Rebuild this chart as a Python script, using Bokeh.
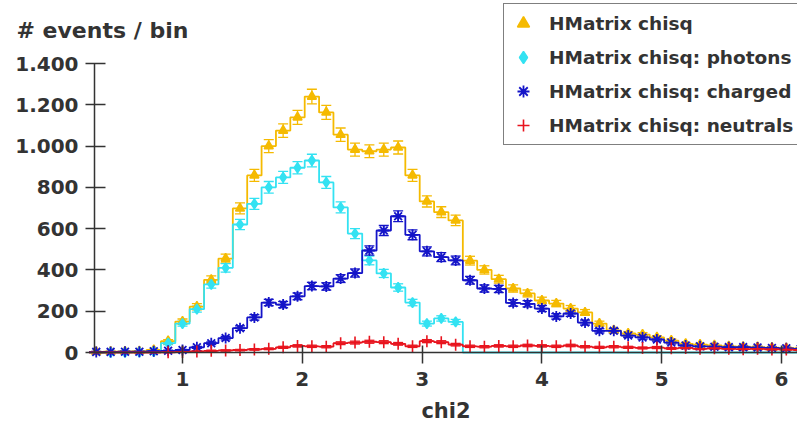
import numpy as np
from bokeh.plotting import figure
from bokeh.models import (Range1d, FixedTicker, Legend, LegendItem, Label,
                          Whisker, TeeHead, ColumnDataSource)
from bokeh.embed import file_html
from bokeh.resources import INLINE

# ---------------- data ----------------
BIN_START = 0.22
BIN_WIDTH = 0.12
N_BINS = 50

chisq = [3, 4, 5, 6, 12, 55, 150, 222, 352, 455,
         698, 858, 1000, 1075, 1139, 1240, 1163, 1055, 983, 975,
         983, 993, 858, 732, 680, 640, 445, 400, 355, 310,
         286, 252, 237, 213, 194, 140, 107, 92, 87, 73,
         58, 42, 38, 35, 30, 28, 26, 24, 22, 20]
photons = [0, 1, 1, 2, 5, 45, 140, 210, 330, 410,
           620, 720, 800, 848, 895, 930, 824, 703, 576, 446,
           383, 315, 242, 140, 165, 148, 0, 0, 0, 0,
           0, 0, 0, 0, 0, 0, 0, 0, 0, 0,
           0, 0, 0, 0, 0, 0, 0, 0, 0, 0]
charged = [3, 3, 4, 4, 6, 8, 12, 25, 45, 70,
           118, 170, 242, 232, 272, 322, 320, 358, 385, 494,
           591, 660, 570, 490, 462, 446, 350, 310, 308, 240,
           236, 213, 175, 189, 145, 105, 105, 82, 73, 63,
           48, 34, 30, 28, 26, 26, 24, 22, 20, 18]
neutrals = [0, 0, 0, 0, 0, 1, 3, 5, 8, 10,
            12, 15, 18, 25, 32, 30, 28, 45, 48, 52,
            50, 42, 30, 55, 50, 38, 30, 28, 32, 30,
            34, 32, 30, 34, 28, 25, 28, 25, 22, 24,
            20, 22, 18, 20, 18, 16, 18, 15, 14, 12]

series_labels = ["HMatrix chisq", "HMatrix chisq: photons",
                 "HMatrix chisq: charged", "HMatrix chisq: neutrals"]

x_ticks = [1, 2, 3, 4, 5, 6]
y_ticks = [0, 200, 400, 600, 800, 1000, 1200, 1400]
y_tick_labels = ["0", "200", "400", "600", "800", "1.000", "1.200", "1.400"]

x_title = "chi2"
y_title = "# events / bin"

# ---------------- layout / styling ----------------
W, H = 797, 428
AXIS_X0 = 0.2654          # where the y axis stands (data x)
X_PX = 119.8              # pixels per unit of chi2
Y_PX = 289.0 / 1400.0     # pixels per event
AXIS_LEFT_PX, AXIS_BOTTOM_PX = 94, 352

FONT = "DejaVu Sans"
TXT = "#333333"
colors = ["#F5BA00", "#33E2F2", "#1414C8", "#E8141E"]
markers = ["triangle", "diamond", "asterisk", "cross"]
msizes = [9, 10, 11, 12]
mwidths = [1.5, 1.5, 1.8, 1.6]

x_start = AXIS_X0 - AXIS_LEFT_PX / X_PX
x_end = AXIS_X0 + (W - AXIS_LEFT_PX) / X_PX
y_end = AXIS_BOTTOM_PX / Y_PX
y_start = -(H - AXIS_BOTTOM_PX) / Y_PX

p = figure(width=W, height=H, title=None,
           x_range=Range1d(x_start, x_end), y_range=Range1d(y_start, y_end),
           output_backend="svg", toolbar_location=None,
           min_border=0, min_border_left=0, min_border_right=0,
           min_border_top=0, min_border_bottom=0)
p.outline_line_color = None
p.xgrid.visible = False
p.ygrid.visible = False
p.background_fill_color = "white"
p.border_fill_color = "white"

edges = BIN_START + BIN_WIDTH * np.arange(N_BINS + 1)
centers = edges[:-1] + BIN_WIDTH / 2

legend_items = []
for vals, col, mk, ms, mw, lab in zip([chisq, photons, charged, neutrals],
                                      colors, markers, msizes, mwidths,
                                      series_labels):
    v = np.asarray(vals, dtype=float)
    p.step(x=edges, y=np.append(v, v[-1]), mode="after",
           line_color=col, line_width=1.8)
    err = np.sqrt(v)
    keep = v > 0
    src = ColumnDataSource(dict(x=centers[keep], y=v[keep],
                                lo=(v - err)[keep], hi=(v + err)[keep]))
    w = Whisker(source=src, base="x", lower="lo", upper="hi",
                dimension="height", line_color=col, line_width=1.3,
                upper_head=TeeHead(size=10, line_color=col, line_width=1.3),
                lower_head=TeeHead(size=10, line_color=col, line_width=1.3))
    p.add_layout(w)
    r = p.scatter("x", "y", source=src, marker=mk, size=ms,
                  fill_color=col, line_color=col, line_width=mw)
    legend_items.append(LegendItem(label=lab, renderers=[r]))

# axes (placed at fixed data locations so the frame covers the whole canvas)
for ax in (p.xaxis[0], p.yaxis[0]):
    ax.axis_line_color = TXT
    ax.axis_line_width = 1.5
    ax.major_tick_line_color = TXT
    ax.major_tick_line_width = 1.5
    ax.minor_tick_line_color = None
    ax.major_label_text_font = FONT
    ax.major_label_text_font_style = "bold"
    ax.major_label_text_font_size = "20px"
    ax.major_label_text_color = TXT

p.yaxis.fixed_location = AXIS_X0
p.yaxis.ticker = FixedTicker(ticks=y_ticks)
p.yaxis.major_label_overrides = {t: l for t, l in zip(y_ticks, y_tick_labels)}
p.yaxis.bounds = (y_ticks[0], y_ticks[-1])
p.yaxis.major_tick_in = 11
p.yaxis.major_tick_out = 9
p.yaxis.major_label_standoff = 7

p.xaxis.fixed_location = 0
p.xaxis.ticker = FixedTicker(ticks=x_ticks)
p.xaxis.bounds = (AXIS_X0, x_end)
p.xaxis.major_tick_in = 7
p.xaxis.major_tick_out = 11
p.xaxis.major_label_standoff = 8
p.xaxis.axis_label = x_title
p.xaxis.axis_label_text_font = FONT
p.xaxis.axis_label_text_font_style = "bold"
p.xaxis.axis_label_text_font_size = "21px"
p.xaxis.axis_label_text_color = TXT
p.xaxis.axis_label_standoff = 10

ylab = Label(x=16, y=H - 30, x_units="screen", y_units="screen",
             text=y_title, text_font=FONT, text_font_style="bold",
             text_font_size="22px", text_color=TXT,
             text_baseline="alphabetic")
p.add_layout(ylab)

legend = Legend(items=legend_items, location=(503, H - 145),
                glyph_width=30, glyph_height=30, label_height=30,
                spacing=4, padding=4, margin=0, label_standoff=11,
                label_text_font=FONT, label_text_font_style="bold",
                label_text_font_size="18.5px", label_text_color=TXT,
                border_line_color="black", border_line_width=1.5,
                background_fill_color="white", background_fill_alpha=1.0)
p.add_layout(legend)

open("out.html", "w").write(file_html(p, INLINE))
